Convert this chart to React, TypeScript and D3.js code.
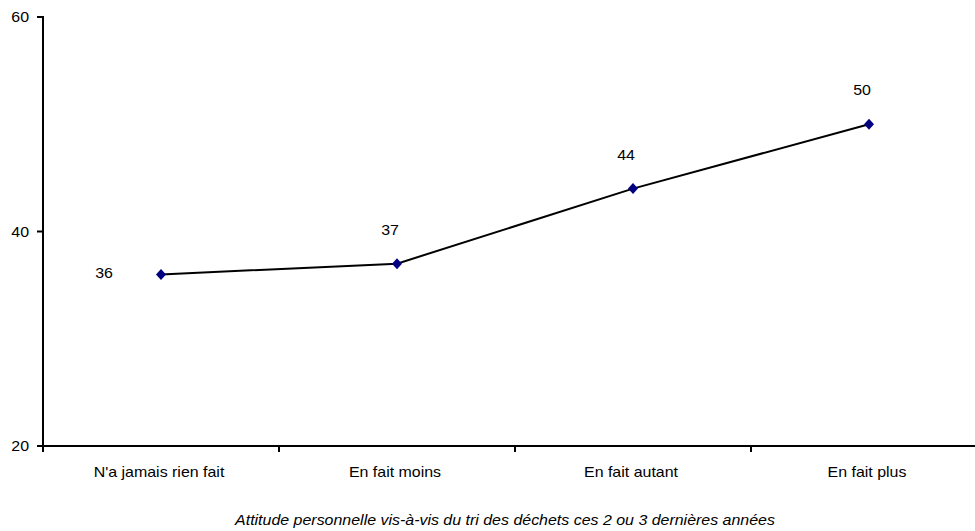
import React from "react";
import * as d3 from "d3";

const categories = ["N'a jamais rien fait", "En fait moins", "En fait autant", "En fait plus"];
const values = [36, 37, 44, 50];
const yTicks = [20, 40, 60];
const axisTitle = "Attitude personnelle vis-à-vis du tri des déchets ces 2 ou 3 dernières années";

const W = 975;
const H = 531;
const left = 43;
const right = 987;
const top = 17;
const bottom = 446;
const font = "Liberation Sans, Arial, sans-serif";
const stretch = 1.14;

// Text drawn with a slight horizontal stretch around its anchor point
function T({
  x,
  y,
  anchor = "middle",
  italic = false,
  baseline,
  children,
}: {
  x: number;
  y: number;
  anchor?: "start" | "middle" | "end";
  italic?: boolean;
  baseline?: string;
  children: React.ReactNode;
}) {
  return (
    <text
      transform={`translate(${x},${y}) scale(${stretch},1)`}
      textAnchor={anchor}
      fontStyle={italic ? "italic" : "normal"}
      dominantBaseline={baseline}
    >
      {children}
    </text>
  );
}

export default function App() {
  const x = d3.scaleBand<string>().domain(categories).range([left, right]);
  const y = d3.scaleLinear().domain([20, 60]).range([bottom, top]);
  const cx = (c: string) => (x(c) ?? 0) + x.bandwidth() / 2;
  const line = d3
    .line<number>()
    .x((_, i) => cx(categories[i]))
    .y((v) => y(v));
  const boundaries = d3.range(categories.length + 1).map((i) => left + i * x.bandwidth());

  return (
    <svg width={W} height={H} style={{ position: "absolute", left: 0, top: 0, background: "#fff" }}>
      <g fontFamily={font} fontSize={14} fill="#000">
        {/* value axis */}
        <line x1={left} x2={left} y1={top - 1} y2={bottom} stroke="#000" strokeWidth={2} />
        {yTicks.map((t) => (
          <g key={t}>
            <line x1={left - 6} x2={left} y1={y(t)} y2={y(t)} stroke="#000" strokeWidth={2} />
            <T x={29} y={y(t) + 5} anchor="end">
              {t}
            </T>
          </g>
        ))}
        {/* category axis */}
        <line x1={left} x2={right} y1={bottom} y2={bottom} stroke="#000" strokeWidth={2} />
        {boundaries.map((b, i) => (
          <line key={i} x1={b} x2={b} y1={bottom} y2={bottom + 6} stroke="#000" strokeWidth={2} />
        ))}
        {categories.map((c) => (
          <T key={c} x={cx(c) - 2} y={477}>
            {c}
          </T>
        ))}
        <T x={505} y={525} italic>
          {axisTitle}
        </T>
        {/* series */}
        <path d={line(values) ?? ""} fill="none" stroke="#000" strokeWidth={2} />
        {values.map((v, i) => {
          const px = cx(categories[i]);
          const py = y(v);
          return (
            <path
              key={i}
              d={`M${px},${py - 5.5}L${px + 5},${py}L${px},${py + 5.5}L${px - 5},${py}Z`}
              fill="#000080"
            />
          );
        })}
        {values.map((v, i) => {
          const px = cx(categories[i]);
          const py = y(v);
          const first = i === 0;
          return (
            <T key={i} x={first ? px - 57 : px - 7} y={(first ? py - 1 : py - 34) + 5}>
              {v}
            </T>
          );
        })}
      </g>
    </svg>
  );
}
